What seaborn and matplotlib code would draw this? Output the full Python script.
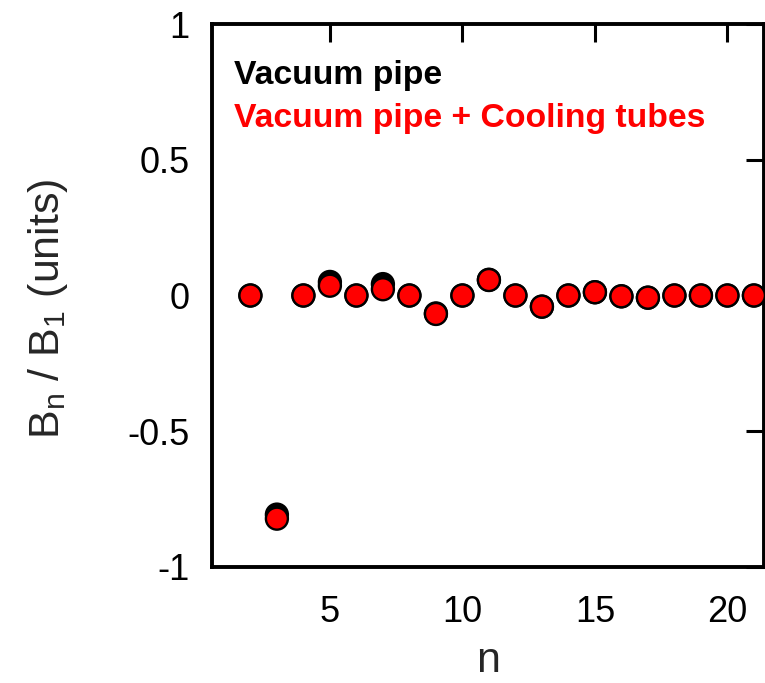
import matplotlib
matplotlib.use("Agg")
import matplotlib.pyplot as plt
import seaborn as sns
import pandas as pd

# Harmonic order
n = [2, 3, 4, 5, 6, 7, 8, 9, 10, 11, 12, 13, 14, 15, 16, 17, 18, 19, 20, 21]
# Normalised field harmonics B_n / B_1 (units)
vacuum_pipe = [0.0, -0.807, 0.0, 0.05, 0.0, 0.042, 0.0, -0.066, 0.0, 0.058,
               0.0, -0.041, 0.0, 0.012, -0.003, -0.008, 0.0, 0.0, 0.0, 0.0]
pipe_and_tubes = [0.0, -0.822, 0.0, 0.036, 0.0, 0.023, 0.0, -0.068, 0.0, 0.057,
                  0.0, -0.041, 0.0, 0.012, -0.003, -0.008, 0.0, 0.0, 0.0, 0.0]
series_names = ["Vacuum pipe", "Vacuum pipe + Cooling tubes"]
series_colors = ["black", "red"]
x_ticks = [5, 10, 15, 20]
y_ticks = [-1, -0.5, 0, 0.5, 1]
y_tick_labels = ["-1", "-0.5", "0", "0.5", "1"]

sns.set_style("white")
plt.rcParams["font.family"] = ["Liberation Sans", "DejaVu Sans"]
plt.rcParams["mathtext.fontset"] = "custom"
plt.rcParams["mathtext.rm"] = "Liberation Sans"

df = pd.DataFrame({
    "n": n * 2,
    "value": vacuum_pipe + pipe_and_tubes,
    "series": [series_names[0]] * len(n) + [series_names[1]] * len(n),
})

fig = plt.figure(figsize=(7.65, 6.83), dpi=100)
ax = fig.add_axes([211.7 / 765, (683 - 567) / 683, (764 - 211.7) / 765, (567 - 24) / 683])

sns.scatterplot(
    data=df, x="n", y="value", hue="series", hue_order=series_names,
    palette=dict(zip(series_names, series_colors)),
    s=250, edgecolor="black", linewidth=1.7, legend=False, ax=ax, zorder=3,
)

ax.set_xlim(0.54, 21.38)
ax.set_ylim(-1, 1)
ax.set_xticks(x_ticks)
ax.set_xticklabels([str(t) for t in x_ticks])
ax.set_yticks(y_ticks)
ax.set_yticklabels(y_tick_labels)

for side in ["left", "right", "top", "bottom"]:
    ax.spines[side].set_visible(True)
    ax.spines[side].set_linewidth(2.8)
    ax.spines[side].set_color("black")

ax.tick_params(axis="both", which="major", direction="in", length=13, width=2.2,
               top=True, right=True, labelsize=26, colors="black")
ax.tick_params(axis="x", pad=20)
ax.tick_params(axis="y", pad=16)

ax.set_xlabel("n", fontsize=31, labelpad=8)
ax.set_ylabel(r"B$_\mathregular{n}$ / B$_\mathregular{1}$ (units)", fontsize=31)
ax.yaxis.set_label_coords(-0.296, 0.475)
ax.yaxis.label.set_verticalalignment("center")

ax.text(0.040, 0.906, series_names[0], transform=ax.transAxes, color=series_colors[0],
        fontsize=24.3, fontweight="bold", va="center", ha="left")
ax.text(0.040, 0.826, series_names[1], transform=ax.transAxes, color=series_colors[1],
        fontsize=24.3, fontweight="bold", va="center", ha="left")

fig.savefig("out.png", dpi=100)
